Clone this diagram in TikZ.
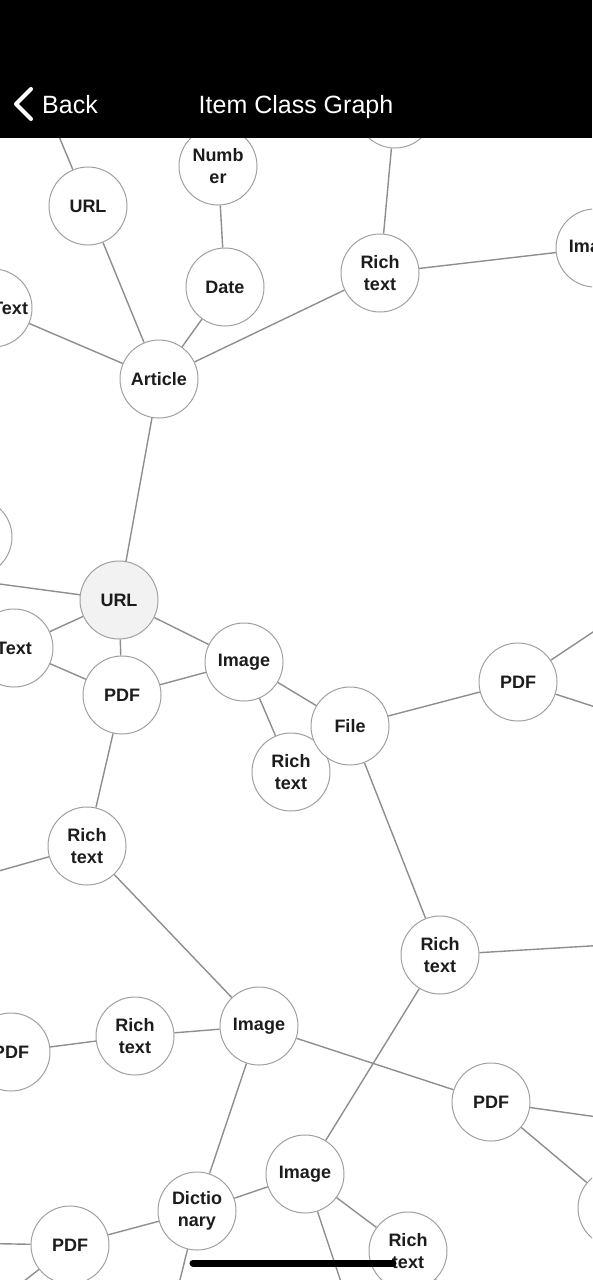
\documentclass[tikz,border=0pt]{standalone}
\usepackage{fontspec}
\setmainfont{Liberation Sans}
\usetikzlibrary{backgrounds}

\definecolor{edgegray}{HTML}{8E8E8E}
\definecolor{ringgray}{HTML}{A0A0A0}
\definecolor{selfill}{HTML}{F2F2F2}
\definecolor{labelink}{HTML}{1C1C1C}

\begin{document}
\begin{tikzpicture}[
    x=1pt, y=-1pt,
    cls/.style={circle, draw=ringgray, line width=1pt, fill=white,
                minimum size=78pt, inner sep=0pt, align=center, text=labelink,
                font=\fontsize{18}{22}\selectfont\bfseries},
    selcls/.style={cls, fill=selfill},
    link/.style={draw=edgegray, line width=1.4pt},
    bartext/.style={text=white, font=\fontsize{25}{30}\selectfont, inner sep=0pt},
]
    \useasboundingbox (0,0) rectangle (592,1280);
    \clip (0,0) rectangle (592,1280);

    %==================== TOP CLUSTER ====================
    \node[cls] (topA) at (395,109) {};
    \node[cls] (numb) at (218,166) {Numb\\er};
    \node[cls] (urlA) at (88,206) {URL};
    \node[cls] (date) at (225,287) {Date};
    \node[cls, text width=70pt, align=right] (txtA) at (-7,308) {Text};
    \node[cls] (richA) at (380,273) {Rich\\text};
    \node[cls] (imgA) at (595,248) {Image};
    \node[cls] (article) at (159,379) {Article};

    %==================== SELECTED URL ====================
    \node[cls] (sideA) at (-27,537) {};
    \node[selcls] (urlSel) at (119,600) {URL};
    \node[cls] (txtB) at (14,648) {Text};
    \node[cls] (pdfA) at (122,695) {PDF};
    \node[cls] (imgB) at (244,662) {Image};
    \node[cls] (richB) at (291,772) {Rich\\text};
    \node[cls] (file) at (350,726) {File};
    \node[cls] (pdfB) at (518,682) {PDF};

    %==================== MIDDLE ====================
    \node[cls] (richC) at (87,846) {Rich\\text};
    \node[cls] (richD) at (440,955) {Rich\\text};
    \node[cls] (pdfC) at (11,1052) {PDF};
    \node[cls] (richE) at (135,1036) {Rich\\text};
    \node[cls] (imgC) at (259,1026) {Image};
    \node[cls] (pdfD) at (491,1102) {PDF};
    \node[cls] (sideB) at (617,1208) {};

    %==================== BOTTOM ====================
    \node[cls] (imgD) at (305,1174) {Image};
    \node[cls] (dict) at (197,1211) {Dictio\\nary};
    \node[cls] (pdfE) at (70,1245) {PDF};
    \node[cls] (richF) at (408,1251) {Rich\\text};

    % free ends of links leaving the screen
    \coordinate (cUrlUp) at (48,110);
    \coordinate (cSelLeft) at (-60,576);
    \coordinate (cPdfBUp) at (620,614);
    \coordinate (cPdfBDown) at (620,715);
    \coordinate (cRichCLeft) at (-40,882);
    \coordinate (cRichDRight) at (640,943);
    \coordinate (cPdfDRight) at (640,1123);
    \coordinate (cImgDDown) at (347,1300);
    \coordinate (cDictDown) at (175,1300);
    \coordinate (cPdfELeft) at (-40,1243);
    \coordinate (cPdfEDown) at (0,1300);
    \coordinate (cRichFDown) at (455,1300);

    %==================== LINKS ====================
    \begin{scope}[on background layer]
        \fill[white] (0,0) rectangle (592,1280);
        \draw[link] (urlA) -- (cUrlUp);
        \draw[link] (numb) -- (date);
        \draw[link] (urlA) -- (article);
        \draw[link] (date) -- (article);
        \draw[link] (txtA) -- (article);
        \draw[link] (article) -- (richA);
        \draw[link] (richA) -- (topA);
        \draw[link] (richA) -- (imgA);
        \draw[link] (article) -- (urlSel);
        \draw[link] (urlSel) -- (cSelLeft);
        \draw[link] (urlSel) -- (txtB);
        \draw[link] (urlSel) -- (pdfA);
        \draw[link] (urlSel) -- (imgB);
        \draw[link] (txtB) -- (pdfA);
        \draw[link] (pdfA) -- (imgB);
        \draw[link] (pdfA) -- (richC);
        \draw[link] (imgB) -- (richB);
        \draw[link] (imgB) -- (file);
        \draw[link] (file) -- (pdfB);
        \draw[link] (pdfB) -- (cPdfBUp);
        \draw[link] (pdfB) -- (cPdfBDown);
        \draw[link] (file) -- (richD);
        \draw[link] (richC) -- (cRichCLeft);
        \draw[link] (richC) -- (imgC);
        \draw[link] (richD) -- (cRichDRight);
        \draw[link] (richD) -- (imgD);
        \draw[link] (pdfC) -- (richE);
        \draw[link] (richE) -- (imgC);
        \draw[link] (imgC) -- (pdfD);
        \draw[link] (imgC) -- (dict);
        \draw[link] (pdfD) -- (cPdfDRight);
        \draw[link] (pdfD) -- (sideB);
        \draw[link] (imgD) -- (dict);
        \draw[link] (imgD) -- (richF);
        \draw[link] (imgD) -- (cImgDDown);
        \draw[link] (dict) -- (pdfE);
        \draw[link] (dict) -- (cDictDown);
        \draw[link] (pdfE) -- (cPdfELeft);
        \draw[link] (pdfE) -- (cPdfEDown);
        \draw[link] (richF) -- (cRichFDown);
    \end{scope}

    %==================== NAV BAR ====================
    \fill[black] (0,0) rectangle (592,138);
    \draw[white, line width=4pt, line cap=round, line join=round]
        (31,89) -- (16,104) -- (31,119);
    \node[bartext, anchor=base west] (back) at (42,113) {Back};
    \node[bartext, anchor=base] (title) at (296,113) {Item Class Graph};

    % home indicator
    \draw[black, line width=7pt, line cap=round] (193,1263) -- (393,1263);

\end{tikzpicture}
\end{document}
